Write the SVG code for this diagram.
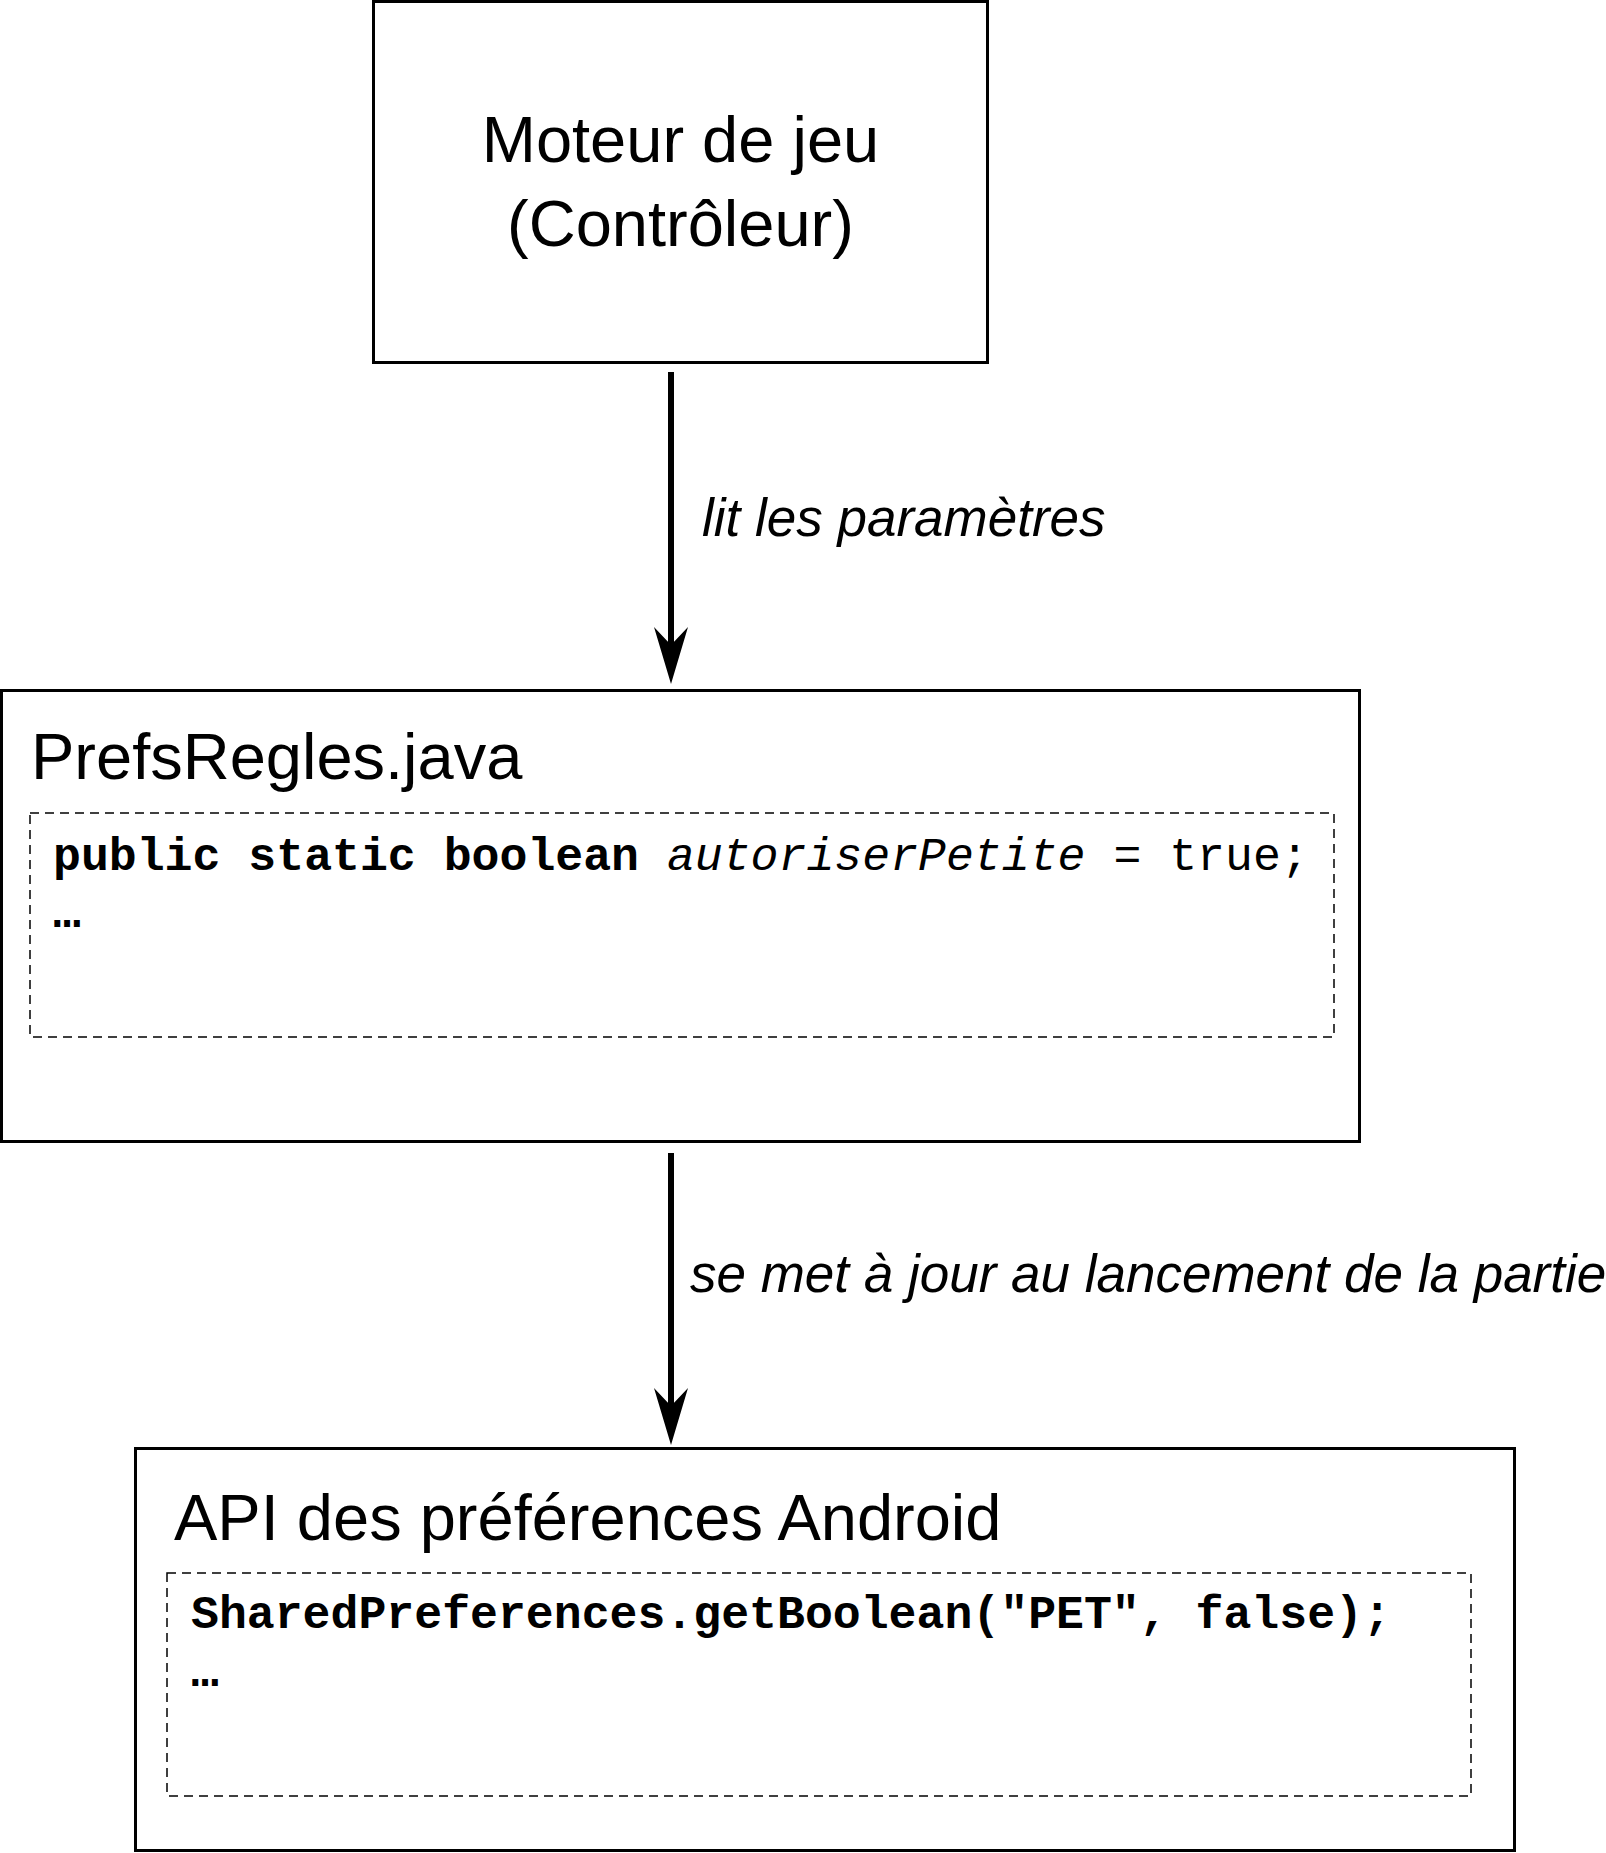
<svg xmlns="http://www.w3.org/2000/svg" width="1606" height="1853" viewBox="0 0 1606 1853">
<style>
.box{fill:#fff;stroke:#000;stroke-width:3}
.dash{fill:none;stroke:#000;stroke-width:1.5;stroke-dasharray:9 6}
.title{font-family:"Liberation Sans",Arial,sans-serif;font-size:65px;fill:#000}
.lbl{font-family:"Liberation Sans",Arial,sans-serif;font-size:53px;font-style:italic;fill:#000}
.code{font-family:"Liberation Mono","Courier New",monospace;font-size:46.5px;fill:#000}
.b{font-weight:bold}
.i{font-style:italic}
.edge{stroke:#000;stroke-width:6;fill:none}
</style>
<defs>
<marker id="arr" viewBox="0 0 57 34" refX="18" refY="17" markerWidth="57" markerHeight="34" markerUnits="userSpaceOnUse" orient="auto">
<path d="M57 17 L0 0 L18 17 L0 34 Z" fill="#000"/>
</marker>
</defs>
<g id="moteur">
<rect class="box" x="373.5" y="1.5" width="614" height="361"/>
<text class="title" x="680.5" y="162" text-anchor="middle">Moteur de jeu</text>
<text class="title" x="680.5" y="246" text-anchor="middle">(Contrôleur)</text>
</g>
<g id="prefsregles">
<rect class="box" x="1.5" y="690.5" width="1358" height="451"/>
<text class="title" x="31" y="779">PrefsRegles.java</text>
<rect class="dash" x="30" y="813" width="1304" height="224"/>
<text class="code" x="53" y="870"><tspan class="b">public static boolean</tspan> <tspan class="i">autoriserPetite</tspan> = true;</text>
<text class="code b" x="53" y="927">…</text>
</g>
<g id="android">
<rect class="box" x="135.5" y="1448.5" width="1379" height="402"/>
<text class="title" x="174" y="1540">API des préférences Android</text>
<rect class="dash" x="167" y="1573" width="1304" height="223"/>
<text class="code b" x="191" y="1628">SharedPreferences.getBoolean("PET", false);</text>
<text class="code b" x="191" y="1686">…</text>
</g>
<g id="connectors">
<line class="edge" x1="671" y1="372" x2="671" y2="645" marker-end="url(#arr)"/>
<text class="lbl" x="702" y="536">lit les paramètres</text>
<line class="edge" x1="671" y1="1153" x2="671" y2="1406" marker-end="url(#arr)"/>
<text class="lbl" x="690" y="1292">se met à jour au lancement de la partie</text>
</g>
</svg>
